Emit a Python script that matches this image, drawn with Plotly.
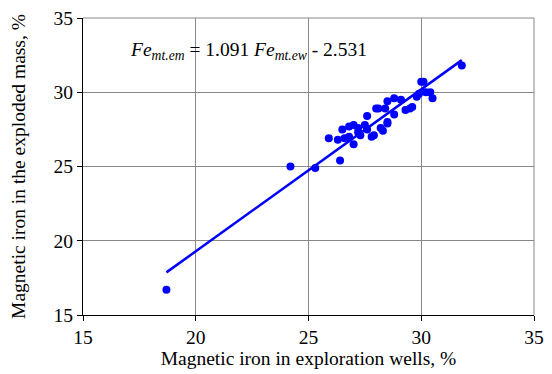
import plotly.graph_objects as go

# Observed data: magnetic iron in exploration wells (x) vs exploded mass (y), %
x_wells = [18.7, 24.2, 25.3, 25.9, 26.3, 26.4, 26.5, 26.6, 26.8, 26.8, 27.0, 27.0,
           27.2, 27.2, 27.3, 27.5, 27.6, 27.6, 27.8, 27.9, 28.0, 28.1, 28.2, 28.3,
           28.4, 28.5, 28.5, 28.5, 28.8, 28.8, 29.1, 29.3, 29.5, 29.6, 29.8, 29.9,
           30.0, 30.1, 30.2, 30.4, 30.5, 31.8]
y_mass = [16.7, 25.0, 24.9, 26.9, 26.8, 25.4, 27.5, 26.9, 27.0, 27.7, 27.8, 26.5,
          27.6, 27.3, 27.1, 27.8, 28.4, 27.5, 27.0, 27.1, 28.9, 28.9, 27.6, 27.4,
          28.9, 29.4, 28.0, 27.9, 29.6, 28.5, 29.5, 28.8, 28.9, 29.0, 29.7, 29.9,
          30.7, 30.7, 30.0, 30.0, 29.6, 31.8]

# Regression fit
slope = 1.091
intercept = -2.531
fit_x = [min(x_wells), max(x_wells)]
fit_y = [slope * v + intercept for v in fit_x]

x_ticks = [15, 20, 25, 30, 35]
y_ticks = [15, 20, 25, 30, 35]

font_family = "Times New Roman, Liberation Serif, serif"
fs = 19.5

fig = go.Figure()
fig.add_trace(go.Scatter(x=fit_x, y=fit_y, mode="lines",
                         line=dict(color="#0000FF", width=2.5), showlegend=False))
fig.add_trace(go.Scatter(x=x_wells, y=y_mass, mode="markers",
                         marker=dict(color="#0000FF", size=8), showlegend=False))

fig.add_annotation(
    x=17.0, y=32.8, xref="x", yref="y", xanchor="left", yanchor="middle",
    text="<i>Fe</i><sub><i>mt.em</i></sub> = 1.091 <i>Fe</i><sub><i>mt.ew</i></sub> - 2.531",
    showarrow=False, font=dict(family=font_family, size=fs, color="black"))

axis_common = dict(
    showgrid=True, gridcolor="#888888", gridwidth=1,
    zeroline=False, showline=True, linecolor="black", linewidth=1,
    ticks="outside", ticklen=5, tickcolor="black",
    tickfont=dict(family=font_family, size=fs, color="black"),
    mirror=False, automargin=False, ticklabeloverflow="allow",
)

fig.update_xaxes(range=[15, 35], tickvals=x_ticks, **axis_common,
                 title=dict(text="Magnetic iron in exploration wells, %",
                            font=dict(family=font_family, size=fs, color="black"),
                            standoff=0))
fig.update_yaxes(range=[15, 35], tickvals=y_ticks, **axis_common,
                 title=dict(text="Magnetic iron in the exploded mass, %",
                            font=dict(family=font_family, size=fs, color="black"),
                            standoff=22))

fig.update_layout(
    width=544, height=366,
    margin=dict(l=75, r=18, t=10, b=59),
    font=dict(family=font_family, size=fs, color="black"),
    plot_bgcolor="white", paper_bgcolor="white",
    shapes=[
        dict(type="line", xref="paper", yref="paper", x0=0, x1=1, y0=1, y1=1,
             line=dict(color="#888888", width=1)),
        dict(type="line", xref="paper", yref="paper", x0=1, x1=1, y0=0, y1=1,
             line=dict(color="#888888", width=1)),
    ],
)

fig.write_html("out.html")
